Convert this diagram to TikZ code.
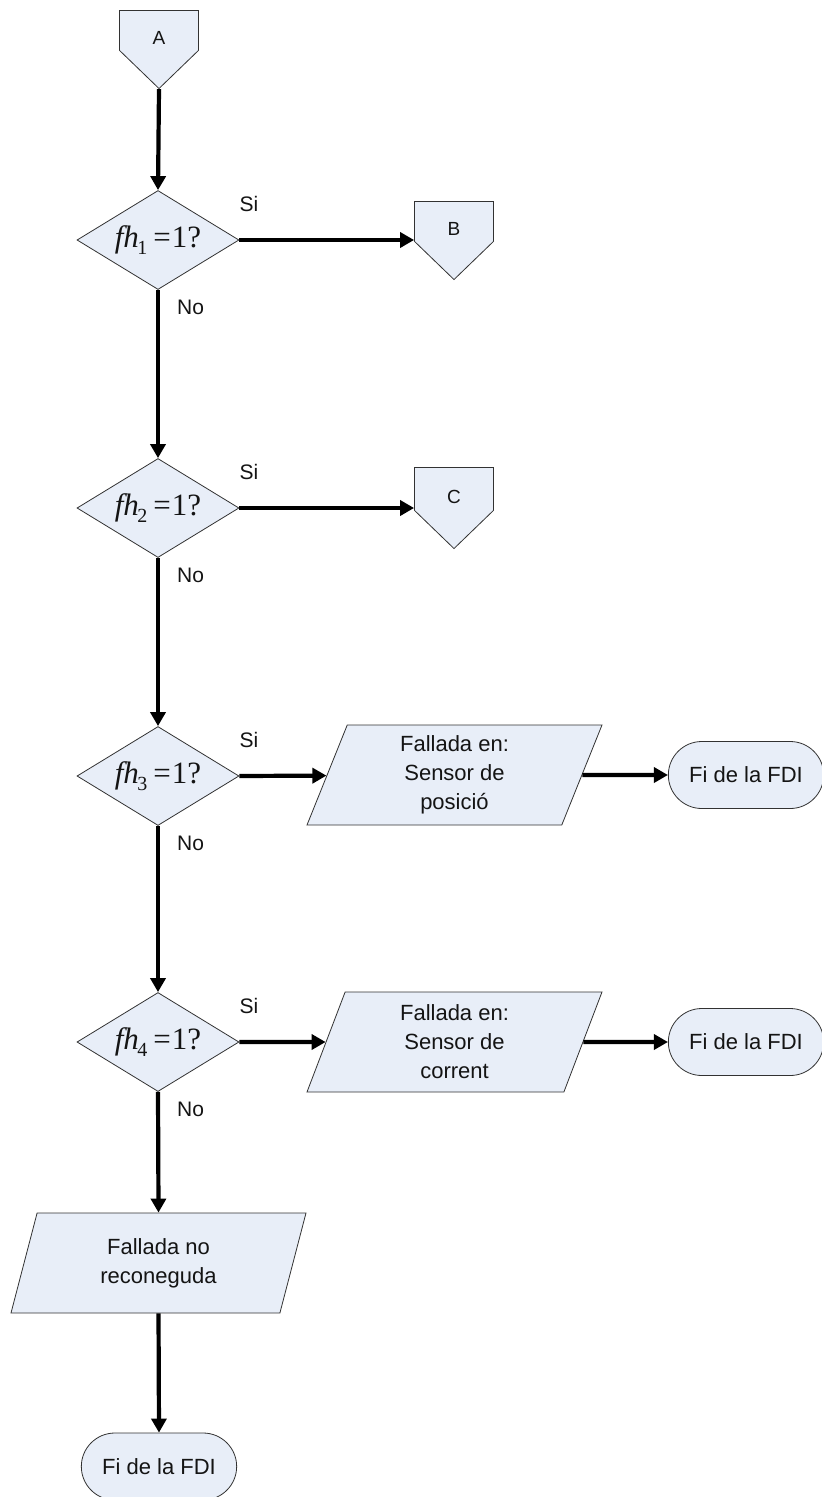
\documentclass[tikz,border=0pt]{standalone}
\usepackage{fontspec}
\setmainfont{Liberation Sans}
\newfontfamily\condfont{Liberation Serif}
\usetikzlibrary{shapes.geometric,shapes.misc,shapes.symbols,arrows.meta}

\definecolor{boxfill}{RGB}{232,238,248}
\definecolor{boxline}{RGB}{50,50,50}

% condition text of a decision: fh_n =1?
\newcommand{\fhcond}[1]{{\condfont\fontsize{31}{33}\selectfont
  \textit{fh}\kern-1.5pt\raisebox{-7pt}{\fontsize{20}{20}\selectfont #1}\kern6pt=\kern1pt1?}}

\tikzset{
  base/.style={draw=boxline, line width=0.8pt, fill=boxfill,
    font=\fontsize{22}{29}\selectfont, text=black!92},
  decision/.style={base, diamond, aspect=1.6, minimum width=162pt, minimum height=99pt, inner sep=0pt},
  iobox/.style={base, trapezium, trapezium left angle=64, trapezium right angle=116,
    trapezium stretches body, minimum width=295pt, minimum height=100pt,
    align=center, inner sep=2pt},
  terminal/.style={base, rounded rectangle, minimum width=162pt, minimum height=67pt},
  offpage/.style={base, signal, signal to=south, signal from=nowhere,
    signal pointer angle=92, minimum width=79pt, minimum height=40pt, inner sep=0pt},
  conntext/.style={yshift=-8pt, inner sep=0pt, font=\fontsize{19}{22}\selectfont, text=black!92},
  flow/.style={line width=4.2pt, -{Triangle[length=14pt,width=15pt]}},
  lab/.style={font=\fontsize{21}{24}\selectfont, inner sep=0pt, text=black!92},
}

\begin{document}
\begin{tikzpicture}[x=1pt, y=-1pt]
  \useasboundingbox (0,0) rectangle (822,1497);
  \clip (0,0) rectangle (822,1497);

  % off-page connectors
  \node[offpage, anchor=north, label={[conntext]center:A}] (A) at (159,10) {};
  \node[offpage, anchor=north, label={[conntext]center:B}] (B) at (454,201) {};
  \node[offpage, anchor=north, minimum height=43pt, label={[conntext]center:C}] (C) at (454,467) {};

  % decisions
  \node[decision] (d1) at (158,240) {\fhcond{1}};
  \node[decision] (d2) at (158,508) {\fhcond{2}};
  \node[decision] (d3) at (158,776) {\fhcond{3}};
  \node[decision] (d4) at (158,1042) {\fhcond{4}};

  % fault messages
  \node[iobox] (p1) at (454.5,775) {Fallada en:\\Sensor de\\posició};
  \node[iobox] (p2) at (454.5,1042) {Fallada en:\\Sensor de\\corrent};
  \node[iobox] (p3) at (158.5,1263) {Fallada no\\reconeguda};

  % end terminals
  \node[terminal] (t1) at (746,775) {Fi de la FDI};
  \node[terminal] (t2) at (746,1042) {Fi de la FDI};
  \node[terminal] (t3) at (159,1466.5) {Fi de la FDI};

  % main column
  \draw[flow] (A.south) -- (d1.north);
  \draw[flow] (d1.south) -- (d2.north);
  \draw[flow] (d2.south) -- (d3.north);
  \draw[flow] (d3.south) -- (d4.north);
  \draw[flow] (d4.south) -- (p3.north);
  \draw[flow] (p3.south) -- (t3.north);

  % yes branches
  \draw[flow] (d1.east) -- (d1.east -| B.west);
  \draw[flow] (d2.east) -- (d2.east -| C.west);
  \draw[flow] (d3.east) -- (p1);
  \draw[flow] (p1) -- (t1);
  \draw[flow] (d4.east) -- (p2);
  \draw[flow] (p2) -- (t2);

  % branch labels
  \foreach \d/\n in {d1/s1, d2/s2, d3/s3, d4/s4}
    \node[lab, anchor=west] (\n) at ([xshift=0pt, yshift=36pt]\d.east) {Si};
  \foreach \d/\n in {d1/n1, d2/n2, d3/n3, d4/n4}
    \node[lab, anchor=west] (\n) at ([xshift=19pt, yshift=-17pt]\d.south) {No};
\end{tikzpicture}
\end{document}
